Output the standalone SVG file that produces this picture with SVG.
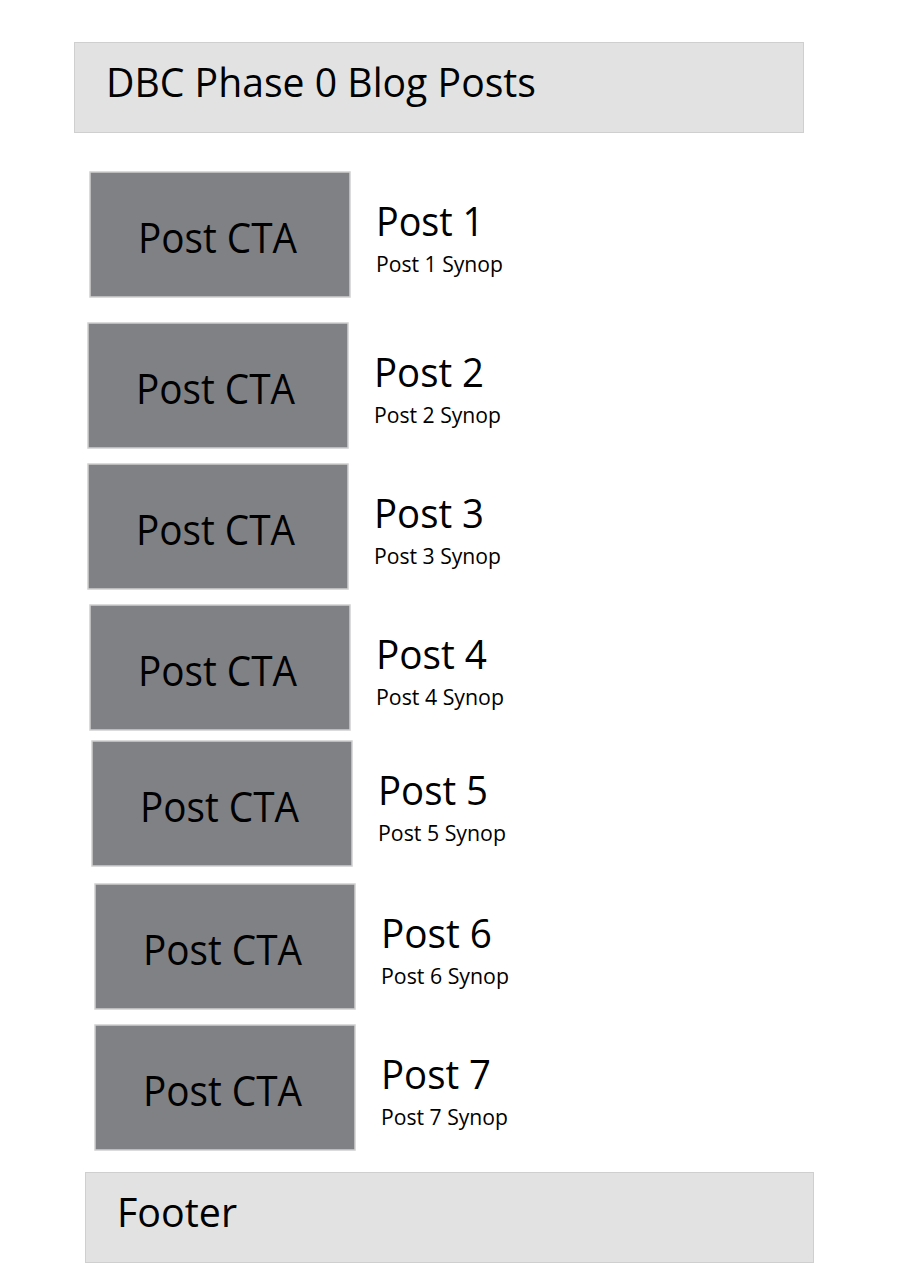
<svg xmlns="http://www.w3.org/2000/svg" width="900" height="1280" viewBox="0 0 900 1280">
<style>
.bar{fill:#e2e2e2;stroke:#cfcfcf;stroke-width:1}
.cta{fill:#808184;stroke:#d0d0d0;stroke-width:1.5}
text{font-family:"Open Sans","Noto Sans","Liberation Sans",sans-serif;fill:#000}
.big{font-size:41px}
.ctat{font-size:42px}
.syn{font-size:21px}
</style>
<rect width="900" height="1280" fill="#fff"/>
<g id="header">
<rect class="bar" x="74.5" y="42.5" width="729" height="90"/>
<text class="big" x="106" y="97" textLength="430" lengthAdjust="spacingAndGlyphs">DBC Phase 0 Blog Posts</text>
</g>
<g id="post1">
<rect class="cta" x="90" y="172" width="260" height="125"/>
<text class="ctat" x="138" y="253" textLength="159" lengthAdjust="spacingAndGlyphs">Post CTA</text>
<text class="big" x="376" y="236" textLength="108" lengthAdjust="spacingAndGlyphs">Post 1</text>
<text class="syn" x="376" y="272" textLength="127" lengthAdjust="spacingAndGlyphs">Post 1 Synop</text>
</g>
<g id="post2">
<rect class="cta" x="88" y="323" width="260" height="125"/>
<text class="ctat" x="136" y="404" textLength="159" lengthAdjust="spacingAndGlyphs">Post CTA</text>
<text class="big" x="374" y="387" textLength="110" lengthAdjust="spacingAndGlyphs">Post 2</text>
<text class="syn" x="374" y="423" textLength="127" lengthAdjust="spacingAndGlyphs">Post 2 Synop</text>
</g>
<g id="post3">
<rect class="cta" x="88" y="464" width="260" height="125"/>
<text class="ctat" x="136" y="545" textLength="159" lengthAdjust="spacingAndGlyphs">Post CTA</text>
<text class="big" x="374" y="528" textLength="110" lengthAdjust="spacingAndGlyphs">Post 3</text>
<text class="syn" x="374" y="564" textLength="127" lengthAdjust="spacingAndGlyphs">Post 3 Synop</text>
</g>
<g id="post4">
<rect class="cta" x="90" y="605" width="260" height="125"/>
<text class="ctat" x="138" y="686" textLength="159" lengthAdjust="spacingAndGlyphs">Post CTA</text>
<text class="big" x="376" y="669" textLength="111" lengthAdjust="spacingAndGlyphs">Post 4</text>
<text class="syn" x="376" y="705" textLength="128" lengthAdjust="spacingAndGlyphs">Post 4 Synop</text>
</g>
<g id="post5">
<rect class="cta" x="92" y="741" width="260" height="125"/>
<text class="ctat" x="140" y="822" textLength="159" lengthAdjust="spacingAndGlyphs">Post CTA</text>
<text class="big" x="378" y="805" textLength="110" lengthAdjust="spacingAndGlyphs">Post 5</text>
<text class="syn" x="378" y="841" textLength="128" lengthAdjust="spacingAndGlyphs">Post 5 Synop</text>
</g>
<g id="post6">
<rect class="cta" x="95" y="884" width="260" height="125"/>
<text class="ctat" x="143" y="965" textLength="159" lengthAdjust="spacingAndGlyphs">Post CTA</text>
<text class="big" x="381" y="948" textLength="111" lengthAdjust="spacingAndGlyphs">Post 6</text>
<text class="syn" x="381" y="984" textLength="128" lengthAdjust="spacingAndGlyphs">Post 6 Synop</text>
</g>
<g id="post7">
<rect class="cta" x="95" y="1025" width="260" height="125"/>
<text class="ctat" x="143" y="1106" textLength="159" lengthAdjust="spacingAndGlyphs">Post CTA</text>
<text class="big" x="381" y="1089" textLength="110" lengthAdjust="spacingAndGlyphs">Post 7</text>
<text class="syn" x="381" y="1125" textLength="127" lengthAdjust="spacingAndGlyphs">Post 7 Synop</text>
</g>
<g id="footer">
<rect class="bar" x="85.5" y="1172.5" width="728" height="90"/>
<text class="big" x="117" y="1227" textLength="120" lengthAdjust="spacingAndGlyphs">Footer</text>
</g>
<g id="connectors"/>
</svg>
